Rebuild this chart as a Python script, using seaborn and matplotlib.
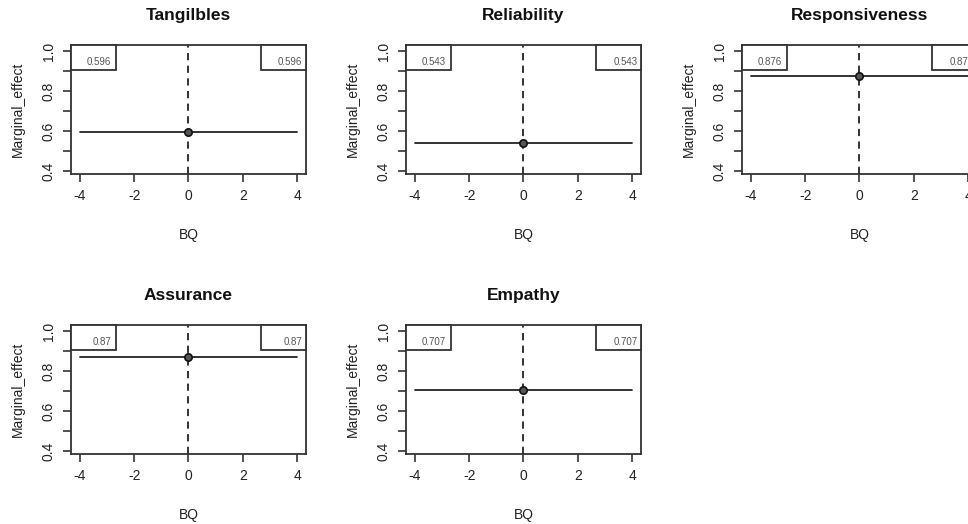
import numpy as np
import matplotlib
matplotlib.use("Agg")
import matplotlib.pyplot as plt
import pandas as pd
import seaborn as sns
from matplotlib.patches import Rectangle

titles = ["Tangilbles", "Reliability", "Responsiveness", "Assurance", "Empathy"]
effects = [0.596, 0.543, 0.876, 0.87, 0.707]
labels = ["0.596", "0.543", "0.876", "0.87", "0.707"]
bq_range = [-4, 4]
x_ticks = [-4, -2, 0, 2, 4]
y_ticks = [0.4, 0.5, 0.6, 0.7, 0.8, 0.9, 1.0]
y_ticklabels = ["0.4", "", "0.6", "", "0.8", "", "1.0"]

sns.set_style("white")
plt.rcParams['font.family'] = ['Liberation Sans', 'DejaVu Sans']

fig = plt.figure(figsize=(9.68, 5.24), dpi=100)

# axes positions in figure fractions (R par(mfrow=c(2,3)) look)
lefts = [0.0733, 0.4194, 0.7665]
bottoms = [0.6679, 0.1336]
w, h = 0.2428, 0.246

for i, (title, eff, lab) in enumerate(zip(titles, effects, labels)):
    r, c = divmod(i, 3)
    ax = fig.add_axes([lefts[c], bottoms[r], w, h])
    df = pd.DataFrame({"BQ": bq_range, "Marginal_effect": [eff, eff]})
    sns.lineplot(data=df, x="BQ", y="Marginal_effect", color="#222222", lw=1.3, ax=ax)
    ax.axvline(0, color="#222222", ls=(0, (4, 3)), lw=1.3)
    sns.scatterplot(x=[0], y=[eff], ax=ax, s=28, color="#555555",
                    edgecolor="#111111", linewidth=1.2, zorder=5)
    ax.set_xlim(-4.33, 4.33)
    ax.set_ylim(0.385, 1.032)
    ax.set_xticks(x_ticks)
    ax.set_xticklabels([str(t) for t in x_ticks])
    ax.set_yticks(y_ticks)
    ax.set_yticklabels(y_ticklabels, rotation=90, va="center")
    ax.tick_params(direction="out", length=6, width=1.2, colors="#333333",
                   labelsize=10, labelcolor="#222222", pad=5,
                   left=True, bottom=True)
    for sp in ax.spines.values():
        sp.set_color("#333333")
        sp.set_linewidth(1.3)
    ax.set_title(title, fontsize=12.5, fontweight="bold", pad=18, color="#111111")
    ax.set_xlabel("BQ", fontsize=10, labelpad=18, color="#222222")
    ax.set_ylabel("Marginal_effect", fontsize=10, labelpad=12, color="#222222")

    # legend-like boxes in the two top corners
    bw, bh = 0.19, 0.19
    for x0, tx in [(0.0, bw - 0.02), (1.0 - bw, 0.985)]:
        ax.add_patch(Rectangle((x0, 1.0 - bh), bw, bh, transform=ax.transAxes,
                               fill=True, facecolor="white", edgecolor="#333333",
                               lw=1.3, zorder=6, clip_on=False))
        ax.text(tx, 1.0 - bh / 2 - 0.035, lab, transform=ax.transAxes, ha="right",
                va="center", fontsize=7, color="#555555", zorder=7)

fig.savefig("out.png", dpi=100)
